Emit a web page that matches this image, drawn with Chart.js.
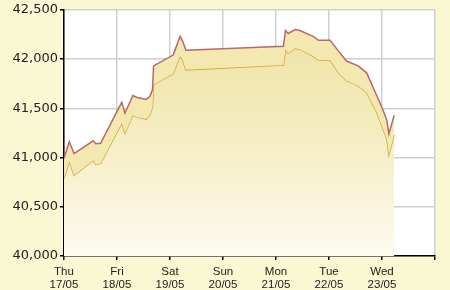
<!DOCTYPE html>
<html>
<head>
<meta charset="utf-8">
<script src="https://cdn.jsdelivr.net/npm/chart.js@4"></script>
<style>
  html, body { margin: 0; padding: 0; background: #faf7d3; }
  canvas { display: block; }
</style>
</head>
<body>
<canvas id="c" width="450" height="290"></canvas>
<script>
// Time positions in days since Thu 17/05 00:00
const times = [0, 0.10, 0.19, 0.55, 0.60, 0.69, 1.09, 1.15, 1.30, 1.38, 1.55, 1.62, 1.67, 1.69,
  2.06, 2.19, 2.24, 2.30, 4.14, 4.18, 4.23, 4.36, 4.45, 4.70, 4.80, 5.02, 5.18, 5.33, 5.55, 5.71,
  5.90, 6.02, 6.09, 6.13, 6.23];
// Sell price (upper line)
const sellValues = [40990, 41160, 41040, 41170, 41140, 41145, 41560, 41450, 41630, 41610, 41590, 41620, 41690, 41930,
  42040, 42230, 42180, 42090, 42130, 42290, 42260, 42300, 42290, 42230, 42190, 42190, 42080, 41980, 41930, 41860,
  41630, 41480, 41380, 41240, 41430];
// Buy price (lower line)
const buyValues = [40790, 40960, 40820, 40970, 40930, 40940, 41350, 41250, 41430, 41410, 41390, 41430, 41515, 41740,
  41850, 42030, 41990, 41890, 41940, 42100, 42060, 42110, 42100, 42030, 41990, 41990, 41860, 41780, 41730, 41660,
  41460, 41290, 41190, 41030, 41230];
const dayLabels = [['Thu', '17/05'], ['Fri', '18/05'], ['Sat', '19/05'], ['Sun', '20/05'], ['Mon', '21/05'], ['Tue', '22/05'], ['Wed', '23/05'], ''];
const yTicks = [40000, 40500, 41000, 41500, 42000, 42500];

const toPts = (vals) => vals.map((v, i) => ({ x: times[i], y: v }));

const plotBg = {
  id: 'plotBg',
  beforeDraw(chart) {
    const a = chart.chartArea, ctx = chart.ctx;
    ctx.save();
    ctx.fillStyle = '#ffffff';
    ctx.fillRect(a.left, a.top, a.right - a.left, a.bottom - a.top);
    ctx.restore();
  }
};

function lowerFill(context) {
  const chart = context.chart;
  const a = chart.chartArea;
  if (!a) return 'rgba(240,230,170,0.6)';
  const g = chart.ctx.createLinearGradient(0, a.top + 40, 0, a.bottom);
  g.addColorStop(0, 'rgba(240,228,168,1)');
  g.addColorStop(0.5, 'rgba(246,239,200,1)');
  g.addColorStop(1, 'rgba(253,251,240,1)');
  return g;
}

new Chart(document.getElementById('c'), {
  type: 'line',
  data: {
    datasets: [
      {
        label: 'Sell',
        data: toPts(sellValues),
        borderColor: '#b7686a',
        borderWidth: 1.5,
        pointRadius: 0,
        tension: 0,
        fill: '+1',
        backgroundColor: '#f3e8b0'
      },
      {
        label: 'Buy',
        data: toPts(buyValues),
        borderColor: '#d4a93c',
        borderWidth: 1.5,
        pointRadius: 0,
        tension: 0,
        fill: 'start',
        backgroundColor: lowerFill
      }
    ]
  },
  options: {
    responsive: false,
    animation: false,
    devicePixelRatio: 1,
    layout: { padding: { top: 6, right: 15, left: 0, bottom: 0 } },
    plugins: { legend: { display: false }, tooltip: { enabled: false } },
    scales: {
      x: {
        type: 'linear',
        min: 0,
        max: 7,
        afterFit: (s) => { s.height = 34; },
        afterBuildTicks: (s) => { s.ticks = [0,1,2,3,4,5,6,7].map(v => ({ value: v })); },
        ticks: {
          autoSkip: false,
          maxRotation: 0,
          padding: 6,
          color: '#222',
          font: { family: 'Liberation Sans', size: 11.5, lineHeight: '12.5px' },
          callback: (v) => dayLabels[v]
        },
        grid: { color: '#cfcfcf', lineWidth: 1.5, tickColor: '#000', tickLength: 4 },
        border: { color: '#000', width: 1.5 }
      },
      y: {
        min: 40000,
        max: 42500,
        afterFit: (s) => { s.width = 64; },
        afterBuildTicks: (s) => { s.ticks = yTicks.map(v => ({ value: v })); },
        ticks: {
          padding: 2,
          color: '#222',
          font: { family: 'DejaVu Sans', size: 13 },
          callback: (v) => v.toLocaleString('en-US')
        },
        grid: { color: '#cfcfcf', lineWidth: 1.5, tickColor: '#000', tickLength: 4 },
        border: { color: '#000', width: 1.5 }
      }
    }
  },
  plugins: [plotBg]
});
</script>
</body>
</html>
